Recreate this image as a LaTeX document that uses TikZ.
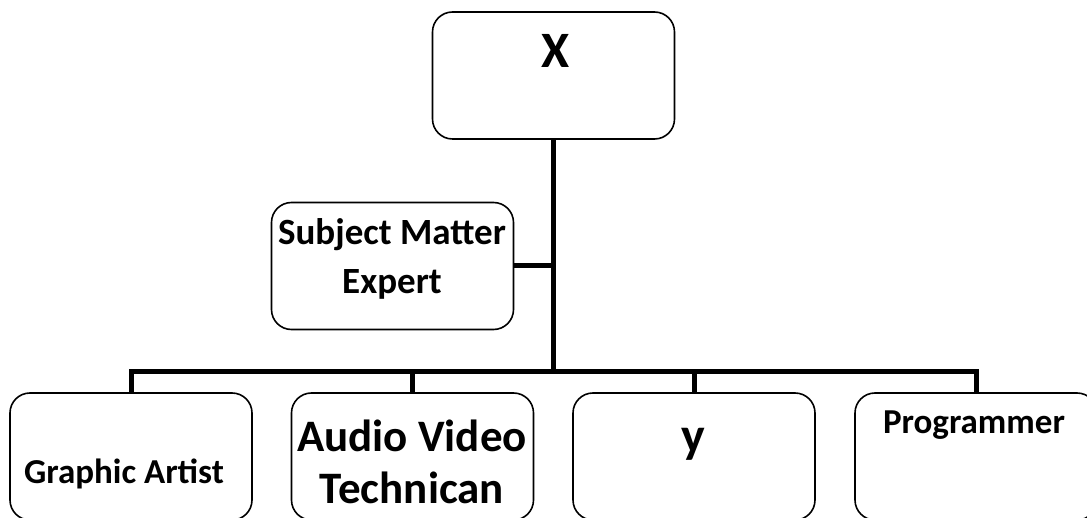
\documentclass[tikz,border=0pt]{standalone}
\usepackage{fontspec}
\setmainfont{Carlito}
\usetikzlibrary{positioning}

\tikzset{
  role/.style={draw, rounded corners=20pt, line width=1.6pt,
    minimum width=242pt, minimum height=127pt, inner sep=0pt},
  link/.style={line width=5pt},
  txt/.style 2 args={font=\bfseries\fontsize{#1}{#2}\selectfont,
    anchor=base, align=center, inner sep=0pt}
}

\begin{document}
\begin{tikzpicture}[x=1pt,y=-1pt]
	\useasboundingbox (0,0) rectangle (1087,518);
	\clip (0,0) rectangle (1087,518);
	% boxes
	\node[role] (x) at (553.5,75.5) {};
	\node[role] (sme) at (392.5,266) {};
	\node[role] (ga) at (131,456.5) {};
	\node[role] (av) at (412.5,456.5) {};
	\node[role] (yy) at (694,456.5) {};
	\node[role] (prog) at (976,456.5) {};
	% texts (base = last line)
	\node[txt={51}{60}] (xt) at (556,68) {X};
	\node[txt={37}{49}] (smet) at (392,294) {Subject Matter\\Expert};
	\node[txt={35}{42}] (gat) at (124,483) {Graphic Artist};
	\node[txt={45}{52}] (avt) at (412,503) {Audio Video\\Technican};
	\node[txt={50}{60}] (yt) at (693,453) {y};
	\node[txt={35}{42}] (progt) at (974,433) {Programmer};
	% connectors
	\coordinate (hub) at (553.5,372);
	\draw[link] (x.south) -- (hub);
	\draw[link] (sme.east) -- (sme.east -| hub);
	\draw[link] (ga.north) |- (hub) -| (prog.north);
	\draw[link] (av.north) -- (av.north |- hub);
	\draw[link] (yy.north) -- (yy.north |- hub);
\end{tikzpicture}
\end{document}
